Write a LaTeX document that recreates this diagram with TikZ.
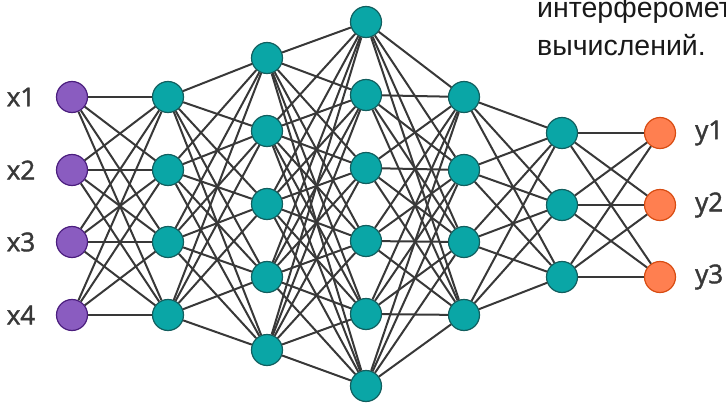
\documentclass[tikz,border=0pt]{standalone}
\usepackage{fontspec}
\setmainfont{Open Sans}
\newfontfamily\labfont{Open Sans}[FakeBold=1.6]
\newfontfamily\txtfont{Liberation Sans}
\definecolor{tealfill}{HTML}{0AA6A6}
\definecolor{tealline}{HTML}{125F5F}
\definecolor{purfill}{HTML}{8A5CC0}
\definecolor{purline}{HTML}{4B1E7E}
\definecolor{orfill}{HTML}{FF7F50}
\definecolor{orline}{HTML}{D84C12}
\definecolor{edgec}{HTML}{383838}
\definecolor{labc}{HTML}{383838}
\tikzset{
  neuron/.style={circle,draw,line width=1.2pt,minimum size=31pt,inner sep=0pt},
  hid/.style={neuron,fill=tealfill,draw=tealline},
  inp/.style={neuron,fill=purfill,draw=purline},
  outp/.style={neuron,fill=orfill,draw=orline},
  conn/.style={draw=edgec,line width=2pt},
  lab/.style={text=labc,font=\labfont\fontsize{26}{26}\selectfont,inner sep=0pt},
  para/.style={font=\txtfont\fontsize{28.5}{28.5}\selectfont,text=black!90,inner sep=0pt,anchor=base west}
}
\begin{document}
\begin{tikzpicture}[x=1pt,y=-1pt]
\useasboundingbox (0,0) rectangle (726,404);
\begin{scope}
\clip (0,0) rectangle (726,404);
\node[para] (p1) at (537,18) {интерферометрических};
\node[para] (p2) at (537,56) {вычислений.};
\end{scope}
\foreach \i/\y in {1/97,2/170,3/242,4/315} \node[inp] (a\i) at (72,\y) {};
\foreach \i/\y in {1/97,2/170,3/242,4/315} \node[hid] (b\i) at (168,\y) {};
\foreach \i/\y in {1/58,2/131,3/204,4/277,5/350} \node[hid] (c\i) at (267,\y) {};
\foreach \i/\y in {1/22,2/95,3/168,4/241,5/314,6/386} \node[hid] (d\i) at (366,\y) {};
\foreach \i/\y in {1/97,2/170,3/242,4/315} \node[hid] (e\i) at (464,\y) {};
\foreach \i/\y in {1/133,2/205,3/277} \node[hid] (f\i) at (562,\y) {};
\foreach \i/\y in {1/133,2/205,3/277} \node[outp] (g\i) at (660,\y) {};
\foreach \i in {1,...,4} \foreach \j in {1,...,4} \draw[conn] (a\i) -- (b\j);
\foreach \i in {1,...,4} \foreach \j in {1,...,5} \draw[conn] (b\i) -- (c\j);
\foreach \i in {1,...,5} \foreach \j in {1,...,6} \draw[conn] (c\i) -- (d\j);
\foreach \i in {1,...,6} \foreach \j in {1,...,4} \draw[conn] (d\i) -- (e\j);
\foreach \i in {1,...,4} \foreach \j in {1,...,3} \draw[conn] (e\i) -- (f\j);
\foreach \i in {1,...,3} \foreach \j in {1,...,3} \draw[conn] (f\i) -- (g\j);
\foreach \i/\y in {1/97,2/170,3/242,4/315} \node[lab] (lx\i) at (21,\y) {x\i};
\foreach \i/\y in {1/133,2/205,3/277} \node[lab,anchor=west] (ly\i) at (695,\y) {y\i};
\end{tikzpicture}
\end{document}
